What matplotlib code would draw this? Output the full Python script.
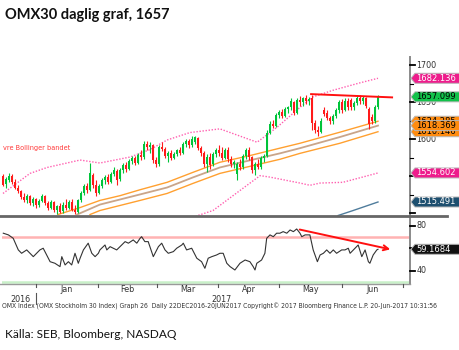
import matplotlib
matplotlib.use("Agg")
import matplotlib.pyplot as plt
from matplotlib.patches import Polygon
from matplotlib.lines import Line2D

# daily OMX30 candles, 2016-12 .. 2017-06-20 (trading-day index 0..125)
opens = [1550, 1540, 1545, 1551, 1542, 1535, 1530, 1522, 1518, 1523, 1514,
         1519, 1511, 1517, 1523, 1514, 1508, 1515, 1505, 1510, 1503, 1512,
         1508, 1516, 1505, 1502, 1518, 1527, 1537, 1531, 1552, 1538,
         1528, 1537, 1545, 1549, 1543, 1553, 1557, 1546, 1558, 1565, 1560,
         1571, 1575, 1568, 1579, 1576, 1594, 1590, 1592, 1572,
         1566, 1590, 1587, 1578, 1581, 1575, 1580, 1585, 1582, 1594, 1597,
         1592, 1596, 1602, 1588, 1581, 1566, 1576, 1566, 1580,
         1585, 1582, 1575, 1586, 1573, 1566, 1553, 1566, 1562, 1577, 1585,
         1576, 1558, 1566, 1562, 1575, 1578, 1609, 1621, 1618,
         1633, 1637, 1632, 1641, 1643, 1650, 1636, 1653, 1650, 1655, 1651,
         1656, 1622, 1613, 1610, 1640, 1635, 1629, 1624, 1631, 1639,
         1650, 1640, 1652, 1653, 1643, 1649, 1656, 1651, 1655, 1641, 1630,
         1624, 1643]
highs = [1553, 1549, 1554, 1553, 1546, 1538, 1532, 1527, 1526, 1525, 1522,
         1521, 1520, 1526, 1525, 1517, 1518, 1517, 1512, 1514, 1515, 1520,
         1518, 1519, 1512, 1520, 1530, 1540, 1541, 1568, 1554, 1545,
         1540, 1548, 1552, 1553, 1556, 1562, 1560, 1561, 1568, 1570, 1574,
         1578, 1578, 1582, 1585, 1598, 1597, 1596, 1593, 1576,
         1592, 1596, 1589, 1584, 1585, 1583, 1587, 1590, 1596, 1600, 1600,
         1604, 1605, 1603, 1591, 1584, 1580, 1582, 1583, 1588,
         1592, 1590, 1588, 1590, 1578, 1572, 1569, 1574, 1580, 1588, 1590,
         1578, 1570, 1573, 1578, 1580, 1612, 1624, 1626, 1636,
         1640, 1641, 1644, 1645, 1655, 1651, 1656, 1658, 1657, 1659, 1657,
         1660, 1626, 1618, 1628, 1643, 1639, 1631, 1634, 1642, 1653,
         1654, 1655, 1656, 1656, 1652, 1659, 1660, 1658, 1657, 1643, 1634,
         1646, 1660]
lows = [1537, 1535, 1543, 1540, 1533, 1527, 1520, 1515, 1514, 1512, 1510,
        1508, 1509, 1515, 1512, 1505, 1506, 1502, 1499, 1500, 1500, 1505,
        1506, 1503, 1499, 1500, 1515, 1525, 1528, 1530, 1535, 1524,
        1526, 1535, 1540, 1540, 1541, 1550, 1539, 1544, 1555, 1556, 1558,
        1566, 1565, 1566, 1572, 1574, 1585, 1582, 1568, 1562,
        1564, 1584, 1575, 1570, 1572, 1573, 1577, 1579, 1580, 1589, 1588,
        1590, 1594, 1585, 1578, 1562, 1556, 1560, 1564, 1576,
        1578, 1572, 1573, 1570, 1563, 1561, 1545, 1558, 1560, 1574, 1572,
        1555, 1552, 1560, 1560, 1570, 1576, 1607, 1615, 1616,
        1628, 1629, 1630, 1635, 1640, 1633, 1634, 1645, 1645, 1648, 1646,
        1612, 1608, 1605, 1608, 1632, 1626, 1620, 1620, 1628, 1636,
        1636, 1638, 1640, 1640, 1640, 1646, 1648, 1648, 1642, 1614, 1620,
        1622, 1641]
closes = [1539, 1546, 1551, 1542, 1535, 1530, 1522, 1518, 1524, 1514, 1519,
          1511, 1517, 1523, 1514, 1508, 1515, 1505, 1510, 1502, 1512, 1508,
          1516, 1505, 1502, 1518, 1527, 1537, 1531, 1555, 1538, 1528,
          1537, 1545, 1549, 1543, 1553, 1558, 1545, 1558, 1565, 1560, 1571,
          1575, 1568, 1579, 1576, 1594, 1590, 1592, 1572, 1566,
          1590, 1587, 1578, 1581, 1575, 1580, 1585, 1582, 1594, 1597, 1592,
          1601, 1603, 1588, 1581, 1566, 1576, 1565, 1580, 1585,
          1582, 1575, 1586, 1573, 1566, 1569, 1567, 1562, 1577, 1585, 1576,
          1558, 1566, 1562, 1575, 1578, 1609, 1621, 1618, 1633,
          1637, 1632, 1641, 1643, 1652, 1636, 1653, 1650, 1655, 1651, 1654,
          1622, 1612, 1610, 1625, 1634, 1629, 1624, 1631, 1639, 1650,
          1640, 1652, 1644, 1643, 1649, 1656, 1651, 1655, 1645, 1620, 1624,
          1643, 1657.099]

# Bollinger bands (sampled along the trading-day index)
bb_upper_x = [0, 9, 14.7, 25.7, 32.3, 42.3, 49, 54.7, 62.3, 72.3, 84.7, 91.3,
              99, 103.3, 110, 119, 125]
bb_upper = [1527, 1554, 1562, 1572, 1568, 1576, 1586, 1599, 1609, 1614, 1596,
            1616, 1643, 1657, 1666, 1676, 1682.136]
bb_lower_x = [55, 64.7, 70, 79, 85.7, 89, 99, 102.3, 105.7, 113.3, 125]
bb_lower = [1470, 1497, 1504, 1531, 1551, 1549, 1541, 1538, 1541, 1542, 1554.602]

# moving-average envelope (upper / mid / lower) and long average
ma_x = [18.3, 25.7, 32.3, 39, 45.7, 54.7, 63.3, 72.3, 82.3, 92.3, 99, 112.3, 125]
ma_upper = [1498.6, 1508, 1517.6, 1524, 1532, 1542, 1555.4, 1569, 1578, 1588,
            1594.6, 1609.5, 1624.285]
ma_mid_x = [24.7, 32.3, 45.7, 54.7, 63.3, 72.3, 82.3, 92.3, 99, 112.3, 125]
ma_mid = [1498.6, 1512, 1525.7, 1535, 1548.6, 1562, 1571.6, 1581, 1588, 1603, 1618.369]
ma_low_x = [29, 32.3, 45.7, 54.7, 63.3, 72.3, 82.3, 92.3, 99, 112.3, 125]
ma_low = [1498.6, 1504, 1517.6, 1527, 1540.5, 1554, 1563.5, 1573, 1581, 1594.6, 1610.146]
ma_long_x = [111.7, 116.7, 125]
ma_long = [1497.3, 1504, 1515.491]

# RSI(14)
rsi_x = [0.1, 1.8, 3.4, 5.1, 6.2, 7.9, 10.1, 12.3, 13.4, 15.7, 17.3, 19, 19.6,
         20.7, 21.8, 22.9, 24, 25.1, 25.7, 26.8, 28.4, 29.6, 30.7, 31.8, 32.3,
         34, 34.6, 35.7, 37.9, 39, 40.7, 41.8, 43.4, 44.6, 45.7, 46.2, 47.3,
         48.4, 50.1, 51.8, 52.9, 54, 55.1, 56.8, 57.9, 59.6, 60.1, 61.2, 62.9,
         64.6, 66.2, 67.3, 68.4, 69.6, 71.2, 72.3, 73.4, 74.6, 75.7, 77.3, 79,
         80.7, 82.3, 83.4, 84, 84.6, 86.2, 87.3, 87.9, 89, 90.1, 91.2, 92.3,
         93.4, 94.6, 95.7, 96.8, 97.9, 99, 99.6, 100.7, 102.3, 103.4, 104.8,
         105.7, 106.8, 107.9, 109, 110.1, 111.2, 112.9, 114, 115.1, 115.7,
         116.8, 118.4, 119.6, 120.7, 121.8, 122.3, 123.4, 124.6, 125]
rsi = [73.5, 72.0, 69.0, 58.6, 55.6, 58.6, 52.6, 58.6, 60.1, 48.1, 46.7, 43.7,
       52.6, 45.2, 48.1, 45.2, 55.6, 46.7, 51.2, 58.6, 64.6, 55.6, 52.6, 55.6,
       58.6, 63.0, 58.6, 61.5, 58.6, 61.5, 66.0, 64.6, 67.5, 64.6, 69.0, 70.4,
       66.0, 66.0, 52.6, 61.5, 64.6, 58.6, 55.6, 57.1, 60.1, 63.0, 64.6, 58.6,
       60.1, 51.2, 48.1, 42.2, 51.2, 52.6, 54.1, 55.6, 55.6, 46.7, 43.7, 40.7,
       46.7, 49.6, 48.1, 43.7, 40.7, 46.7, 49.6, 55.6, 69.0, 72.0, 70.4, 73.5,
       73.5, 74.9, 73.5, 76.4, 74.9, 77.3, 73.5, 70.4, 72.0, 72.0, 58.6, 48.1,
       54.1, 55.6, 58.6, 55.6, 58.6, 55.6, 58.6, 58.6, 60.1, 55.6, 58.6, 63.0,
       52.6, 58.6, 48.1, 46.7, 54.1, 58.6, 59.1684]

# drawn trend lines
resist_x = [102.7, 129.7]
resist_y = [1660.8, 1656.4]
rsi_trend_x = [98, 130]
rsi_trend_y = [77.3, 58.6]

month_edges = [11, 31.7, 51.3, 71.7, 92, 113, 133.3]
month_names = ["Jan", "Feb", "Mar", "Apr", "May", "Jun"]

W, H = 459, 350
fig = plt.figure(figsize=(W / 100, H / 100), dpi=100)
fig.patch.set_facecolor("white")


def px_axes(x0, y0, x1, y1):
    return fig.add_axes([x0 / W, 1 - y1 / H, (x1 - x0) / W, (y1 - y0) / H])


ax = px_axes(2, 57, 410, 215.5)
ax_rsi = px_axes(2, 215.5, 410, 284)
xlim = (-1 / 3, 135.67)
for a in (ax, ax_rsi):
    a.set_xlim(*xlim)
    a.set_axis_off()
ax.set_ylim(1497.3, 1710.8)
ax_rsi.set_ylim(28.2, 89.3)

UP, DOWN = "#00c43a", "#ff1a1a"

# candles
idx = list(range(len(closes)))
cols = [UP if c >= o else DOWN for o, c in zip(opens, closes)]
ax.vlines(idx, lows, highs, colors=cols, lw=0.8, zorder=3)
ax.bar(idx, [c - o for o, c in zip(opens, closes)], bottom=opens, width=0.75,
       color=cols, linewidth=0, zorder=4)

ax.plot(bb_upper_x, bb_upper, color="#ff5fb0", lw=1.0, ls=(0, (1, 1.2)), zorder=2)
ax.plot(bb_lower_x, bb_lower, color="#ff5fb0", lw=1.0, ls=(0, (1, 1.2)), zorder=2)
ax.plot(ma_x, ma_upper, color="#ffa030", lw=1.0, zorder=2)
ax.plot(ma_mid_x, ma_mid, color="#c9a58a", lw=1.3, zorder=2)
ax.plot(ma_low_x, ma_low, color="#ffa030", lw=1.0, zorder=2)
ax.plot(ma_long_x, ma_long, color="#4f7c9c", lw=1.0, zorder=2)
ax.plot(resist_x, resist_y, color="#ff1010", lw=1.4, zorder=5)

ax.text(0, 1588, "vre Bollinger bandet", color="#ff3a3a", fontsize=5.2,
        fontstretch="condensed", va="center", ha="left")

# RSI panel
ax_rsi.axhline(70, color="#ffb3b3", lw=1.8, zorder=1)
ax_rsi.axhline(30, color="#c8f0c8", lw=1.8, zorder=1)
ax_rsi.plot(rsi_x, rsi, color="#333333", lw=0.8, zorder=3)
ax_rsi.annotate("", xy=(rsi_trend_x[1], rsi_trend_y[1]),
                xytext=(rsi_trend_x[0], rsi_trend_y[0]),
                arrowprops=dict(arrowstyle="->", color="#ff1010", lw=1.4,
                                mutation_scale=9), zorder=5)


def disp_y(a, v):
    return a.transData.transform((0, v))[1]


def disp_x(a, v):
    return a.transData.transform((v, 0))[0]


# right-hand axis line, panel divider, bottom axis
fig.add_artist(Line2D([410 / W, 410 / W], [1 - 57 / H, 1 - 284 / H],
                      transform=fig.transFigure, color="#8a8a8a", lw=1.4))
fig.add_artist(Line2D([0, 447 / W], [1 - 215.5 / H] * 2,
                      transform=fig.transFigure, color="#666666", lw=2.0))
fig.add_artist(Line2D([0, 410 / W], [1 - 284 / H] * 2,
                      transform=fig.transFigure, color="#9a9a9a", lw=1.0))

tick_style = dict(fontsize=5.8, color="#333333", va="center", ha="left")


def y_ticks(a, labelled, bare, minors):
    for v in labelled + bare:
        y = disp_y(a, v) / H
        fig.add_artist(Line2D([410 / W, 415 / W], [y, y], transform=fig.transFigure,
                              color="black", lw=1.3, zorder=2))
    for v in labelled:
        fig.text(416.5 / W, disp_y(a, v) / H, f"{v:g}", zorder=2, **tick_style)
    for v in minors:
        y = disp_y(a, v) / H
        fig.add_artist(Line2D([410 / W, 413 / W], [y, y], transform=fig.transFigure,
                              color="black", lw=0.8, zorder=2))


# 1550 and 60 sit under the value tags, 1500 is on the divider
y_ticks(ax, [1700, 1650, 1600], [1550, 1500], [1675, 1625, 1575, 1525])
y_ticks(ax_rsi, [80, 40], [60], [])


def tag(a, value, text, face, fg, z):
    y = disp_y(a, value)
    pts = [(411, y), (415, y + 5), (462, y + 5), (462, y - 5), (415, y - 5)]
    fig.add_artist(Polygon([(px / W, py / H) for px, py in pts], closed=True,
                           transform=fig.transFigure, facecolor=face,
                           edgecolor="#b8b8b8", lw=0.7, zorder=z))
    fig.text(416.5 / W, y / H, text, color=fg, fontsize=6.0, va="center",
             ha="left", zorder=z + 0.1)


tag(ax, bb_upper[-1], f"{bb_upper[-1]:.3f}", "#ee1c8c", "white", 10)
tag(ax, closes[-1], f"{closes[-1]:.3f}", "#12c24a", "black", 10)
tag(ax, ma_upper[-1], f"{ma_upper[-1]:.3f}", "#ff8c10", "black", 10)
tag(ax, ma_low[-1], f"{ma_low[-1]:.3f}", "#ff8c10", "black", 11)
tag(ax, ma_mid[-1], f"{ma_mid[-1]:.3f}", "#ff8c10", "black", 12)
tag(ax, bb_lower[-1], f"{bb_lower[-1]:.3f}", "#ee1c8c", "white", 10)
tag(ax, ma_long[-1], f"{ma_long[-1]:.3f}", "#1d4f6f", "white", 10)
tag(ax_rsi, rsi[-1], f"{rsi[-1]:.4f}", "#111111", "white", 10)

# month ticks and labels
for e in month_edges:
    x = disp_x(ax_rsi, e) / W
    fig.add_artist(Line2D([x, x], [1 - 284 / H, 1 - 287 / H],
                          transform=fig.transFigure, color="#555555", lw=0.8))
for name, a0, a1 in zip(month_names, month_edges[:-1], month_edges[1:]):
    x = disp_x(ax_rsi, (a0 + a1) / 2) / W
    fig.text(x, 1 - 290 / H, name, fontsize=5.8, color="#333333",
             ha="center", va="center")
x_year = disp_x(ax_rsi, month_edges[0]) / W
fig.add_artist(Line2D([x_year, x_year], [1 - 293 / H, 1 - 304 / H],
                      transform=fig.transFigure, color="#555555", lw=0.8))
fig.text(20 / W, 1 - 299 / H, "2016", fontsize=5.8, color="#333333", ha="center", va="center")
fig.text(221 / W, 1 - 299 / H, "2017", fontsize=5.8, color="#333333", ha="center", va="center")

fig.text(2 / W, 1 - 306 / H,
         "OMX Index (OMX Stockholm 30 Index) Graph 26  Daily 22DEC2016-20JUN2017 "
         "Copyright\u00a9 2017 Bloomberg Finance L.P. 20-Jun-2017 10:31:56",
         fontsize=4.9, color="#333333", ha="left", va="center", fontstretch="condensed")

fig.text(5 / W, 1 - 18.5 / H, "OMX30 daglig graf, 1657", fontsize=10.5,
         fontweight="bold", family="Lato", color="#111111", va="baseline")
fig.text(5 / W, 1 - 338 / H, "Källa: SEB, Bloomberg, NASDAQ", fontsize=8.6,
         family="Lato", color="#111111", va="baseline")

fig.savefig("out.png", dpi=100)
